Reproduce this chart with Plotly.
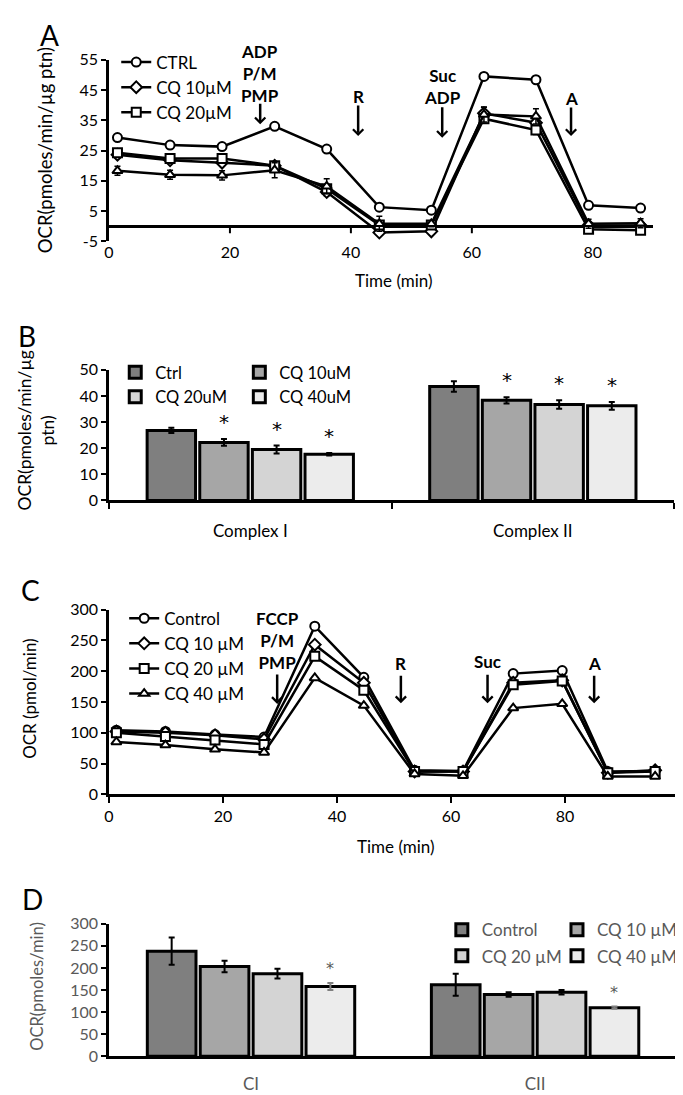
import plotly.graph_objects as go

W, H = 683, 1095
def px(x): return x / W
def py(y): return 1 - y / H

FONT = "Lato"
BLACK = "#000000"
GTXT = "#595959"
FILLS = ["#7f7f7f", "#a6a6a6", "#d4d4d4", "#ececec"]

# ---------------- Panel A data ----------------
a_time = [1.4, 10.1, 18.7, 27.4, 36.0, 44.7, 53.3, 62.0, 70.6, 79.3, 87.9]
a_ctrl = [29.3, 26.8, 26.3, 33.0, 25.5, 6.3, 5.3, 49.5, 48.4, 6.9, 6.0]
a_ctrl_err = [0.8, 0.6, 0.6, 0.8, 0.7, 0.7, 0.7, 1.2, 1.2, 0.6, 0.6]
a_cq10 = [23.6, 21.8, 21.0, 20.0, 11.3, -2.1, -1.7, 37.3, 34.2, 0.3, 0.2]
a_cq10_err = [1.0, 1.0, 1.0, 1.0, 1.2, 0.8, 0.8, 2.0, 2.0, 0.8, 0.8]
a_cq20 = [24.3, 22.4, 22.4, 20.0, 12.4, 0.4, 0.4, 35.5, 31.8, -1.0, -1.3]
a_cq20_err = [1.0, 1.0, 1.0, 1.0, 1.2, 0.8, 0.8, 1.5, 1.5, 0.8, 0.8]
a_cq40 = [18.3, 17.0, 16.8, 18.5, 13.2, 0.8, 0.8, 36.9, 36.3, 0.8, 1.0]
a_cq40_err = [1.5, 1.5, 1.5, 2.5, 2.5, 2.5, 1.0, 2.5, 2.5, 1.5, 1.5]
a_names = ["CTRL", "CQ 10µM", "CQ 20µM", "CQ 40µM"]
a_yticks = [-5, 5, 15, 25, 35, 45, 55]
a_xticks = [0, 20, 40, 60, 80]

# ---------------- Panel B data ----------------
b_cats = ["Complex I", "Complex II"]
b_names = ["Ctrl", "CQ 10uM", "CQ 20uM", "CQ 40uM"]
b_vals = [[26.8, 43.6], [22.2, 38.3], [19.5, 36.7], [17.7, 36.2]]
b_errs = [[1.0, 2.0], [1.3, 1.2], [1.5, 1.6], [0.5, 1.5]]
b_sig = [[False, False], [True, True], [True, True], [True, True]]
b_yticks = [0, 10, 20, 30, 40, 50]

# ---------------- Panel C data ----------------
c_time = [1.3, 9.9, 18.6, 27.2, 36.1, 44.7, 53.6, 62.1, 70.9, 79.5, 87.5, 95.8]
c_ctrl = [104, 102, 97, 93, 273, 190, 39, 38, 196, 201, 37, 38]
c_cq10 = [102, 100, 96, 89, 243, 181, 37, 37, 181, 185, 35, 39]
c_cq20 = [100, 94, 88, 81, 224, 169, 37, 37, 178, 184, 35, 37]
c_cq40 = [85, 80, 73, 68, 189, 144, 33, 30, 140, 147, 29, 29]
c_names = ["Control", "CQ 10 µM", "CQ 20 µM", "CQ 40 µM"]
c_yticks = [0, 50, 100, 150, 200, 250, 300]
c_xticks = [0, 20, 40, 60, 80, 100]

# ---------------- Panel D data ----------------
d_cats = ["CI", "CII"]
d_names = ["Control", "CQ 10 µM", "CQ 20 µM", "CQ 40 µM"]
d_vals = [[238, 162], [203, 140], [187, 145], [158, 110]]
d_errs = [[31, 25], [13, 5], [11, 5], [8, 2.5]]
d_sig = [[False, False], [False, False], [False, False], [True, True]]
d_yticks = [0, 50, 100, 150, 200, 250, 300]

SYMS = ["circle", "diamond", "square", "triangle-up"]
BARGAP = 0.255
BARGROUPGAP = 0.08

fig = go.Figure()

# ---- Panel A traces ----
a_series = [(a_ctrl, a_ctrl_err), (a_cq10, a_cq10_err), (a_cq20, a_cq20_err), (a_cq40, a_cq40_err)]
for i, (vals, errs) in enumerate(a_series):
    fig.add_trace(go.Scatter(
        x=a_time, y=vals, name=a_names[i], mode="lines+markers",
        line=dict(color=BLACK, width=2.5),
        marker=dict(symbol=SYMS[i], size=9, color="white", line=dict(color=BLACK, width=2)),
        error_y=dict(type="data", array=errs, color=BLACK, thickness=1.5, width=3),
        xaxis="x", yaxis="y", legend="legend",
        showlegend=(i < 3),
    ))

# ---- Panel B traces ----
for i in range(4):
    fig.add_trace(go.Bar(
        x=b_cats, y=b_vals[i], name=b_names[i],
        marker=dict(color=FILLS[i], line=dict(color=BLACK, width=3)),
        error_y=dict(type="data", array=b_errs[i], color=BLACK, thickness=2, width=3),
        xaxis="x2", yaxis="y2",
        legend="legend2" if i % 2 == 0 else "legend3",
    ))

# ---- Panel C traces ----
for i, vals in enumerate([c_ctrl, c_cq10, c_cq20, c_cq40]):
    fig.add_trace(go.Scatter(
        x=c_time, y=vals, name=c_names[i], mode="lines+markers",
        line=dict(color=BLACK, width=2.5),
        marker=dict(symbol=SYMS[i], size=9, color="white", line=dict(color=BLACK, width=2)),
        xaxis="x3", yaxis="y3", legend="legend4",
    ))

# ---- Panel D traces ----
for i in range(4):
    fig.add_trace(go.Bar(
        x=d_cats, y=d_vals[i], name=d_names[i],
        marker=dict(color=FILLS[i], line=dict(color=BLACK, width=3)),
        error_y=dict(type="data", array=d_errs[i],
                     color="#7f7f7f" if i == 3 else BLACK, thickness=2, width=3),
        xaxis="x4", yaxis="y4",
        legend="legend5" if i % 2 == 0 else "legend6", legendgroup="d%d" % i,
    ))

axis_common = dict(showgrid=False, zeroline=False, color=BLACK,
                   tickfont=dict(family=FONT, size=16, color=BLACK))

layout = dict(
    width=W, height=H, margin=dict(l=0, r=0, t=0, b=0),
    paper_bgcolor="white", plot_bgcolor="rgba(0,0,0,0)",
    font=dict(family=FONT, size=16, color=BLACK),
    barmode="group", bargap=BARGAP, bargroupgap=BARGROUPGAP,
    # Panel A
    xaxis=dict(axis_common, domain=[px(96.7), px(645)], range=[0, 90], anchor="y",
               tickmode="array", tickvals=a_xticks, ticktext=[str(v) for v in a_xticks],
               showline=False, ticks=""),
    yaxis=dict(axis_common, domain=[py(227.3), py(42.5)], range=[-5, 55], anchor="x",
               tickmode="array", tickvals=a_yticks, ticktext=[str(v) for v in a_yticks],
               showline=True, linewidth=2.5, linecolor=BLACK, ticks="outside", ticklen=5,
               tickwidth=2, tickcolor=BLACK, zeroline=True, zerolinewidth=3, zerolinecolor=BLACK),
    # Panel B
    xaxis2=dict(axis_common, domain=[px(96.7), px(666)], anchor="y2", type="category",
                showline=True, linewidth=2.5, linecolor=BLACK, ticks="outside",
                tickson="boundaries", ticklen=6, tickwidth=2, tickcolor=BLACK,
                tickfont=dict(family=FONT, size=17, color=BLACK),
                ticklabelstandoff=13),
    yaxis2=dict(axis_common, domain=[py(491), py(358)], range=[0, 50], anchor="x2",
                tickmode="array", tickvals=b_yticks, ticktext=[str(v) for v in b_yticks],
                showline=True, linewidth=2.5, linecolor=BLACK, ticks="outside", ticklen=5,
                tickwidth=2, tickcolor=BLACK),
    # Panel C
    xaxis3=dict(axis_common, domain=[px(96.7), px(671)], range=[0, 100], anchor="y3",
                tickmode="array", tickvals=c_xticks, ticktext=[str(v) for v in c_xticks],
                showline=True, linewidth=2.5, linecolor=BLACK, ticks="outside", ticklen=6,
                tickwidth=2, tickcolor=BLACK),
    yaxis3=dict(axis_common, domain=[py(790), py(602)], range=[0, 300], anchor="x3",
                tickmode="array", tickvals=c_yticks, ticktext=[str(v) for v in c_yticks],
                showline=True, linewidth=2.5, linecolor=BLACK, ticks="outside", ticklen=5,
                tickwidth=2, tickcolor=BLACK),
    # Panel D
    xaxis4=dict(axis_common, domain=[px(96.7), px(669)], anchor="y4", type="category",
                showline=True, linewidth=2.5, linecolor=BLACK, ticks="",
                tickfont=dict(family=FONT, size=17, color=GTXT), ticklabelstandoff=10),
    yaxis4=dict(axis_common, domain=[py(1056.7), py(921.7)], range=[0, 300], anchor="x4",
                tickmode="array", tickvals=d_yticks, ticktext=[str(v) for v in d_yticks],
                showline=True, linewidth=2.5, linecolor=BLACK, ticks="outside", ticklen=5,
                tickwidth=2, tickcolor=BLACK,
                tickfont=dict(family=FONT, size=16, color=GTXT)),
)

leg_common = dict(bgcolor="rgba(0,0,0,0)", borderwidth=0, xanchor="left", yanchor="top",
                  orientation="v", itemclick=False, itemdoubleclick=False)
layout["legend"] = dict(leg_common, x=px(104), y=py(27), font=dict(family=FONT, size=17, color=BLACK))
layout["legend2"] = dict(leg_common, x=px(103), y=py(343), font=dict(family=FONT, size=16.5, color=BLACK))
layout["legend3"] = dict(leg_common, x=px(228), y=py(343), font=dict(family=FONT, size=16.5, color=BLACK))
layout["legend4"] = dict(leg_common, x=px(112), y=py(593), font=dict(family=FONT, size=17, color=BLACK))
layout["legend5"] = dict(leg_common, x=px(432), y=py(910), font=dict(family=FONT, size=17, color=GTXT),
                         tracegroupgap=1)
layout["legend6"] = dict(leg_common, x=px(548), y=py(910), font=dict(family=FONT, size=17, color=GTXT),
                         tracegroupgap=1)

fig.update_layout(**layout)

ann = []
def txt(text, x, y, size=16, color=BLACK, angle=0, bold=False, xref="paper", yref="paper",
        family=FONT, **kw):
    d = dict(text=("<b>%s</b>" % text) if bold else text, x=x, y=y, xref=xref, yref=yref,
             showarrow=False, textangle=angle, font=dict(family=family, size=size, color=color),
             xanchor="center", yanchor="middle")
    d.update(kw)
    ann.append(d)

def arrow(x, y, length, xref, yref):
    ann.append(dict(text="", x=x, y=y, xref=xref, yref=yref, showarrow=True, ax=0, ay=-length,
                    arrowhead=4, arrowsize=0.8, arrowwidth=2.5, arrowcolor=BLACK,
                    standoff=0, startstandoff=0))

# panel letters
txt("A", px(37), py(17), size=28)
txt("B", px(14), py(324), size=28)
txt("C", px(17.5), py(582), size=28)
txt("D", px(20), py(897), size=28)

# axis titles
txt("OCR(pmoles/min/µg ptn)", px(33), py(134.8), size=18.5, angle=-90)
txt("Time (min)", px(384), py(267), size=17)
txt("OCR(pmoles/min/µg<br>ptn)", px(23), py(420), size=17.5, angle=-90)
txt("OCR (pmol/min)", px(17), py(692), size=17, angle=-90)
txt("Time (min)", px(386), py(843), size=17)
txt("OCR(pmoles/min)", px(24), py(985), size=16.5, angle=-90, color=GTXT)

# Panel A injection labels
txt("ADP<br>P/M<br>PMP", 25.0, 50.3, size=17, bold=True, xref="x", yref="y")
arrow(25.0, 33.7, 22, "x", "y")
txt("R", 41.2, 42.8, size=17, bold=True, xref="x", yref="y")
arrow(41.2, 29.8, 32, "x", "y")
txt("Suc<br>ADP", 55.1, 46.2, size=17, bold=True, xref="x", yref="y")
arrow(55.1, 29.2, 32, "x", "y")
txt("A", 76.4, 42.2, size=17, bold=True, xref="x", yref="y")
arrow(76.4, 29.8, 30, "x", "y")

# Panel C injection labels
txt("FCCP<br>P/M<br>PMP", 29.5, 250.4, size=17, bold=True, xref="x3", yref="y3")
arrow(29.5, 146.7, 31, "x3", "y3")
txt("R", 51.2, 212, size=17, bold=True, xref="x3", yref="y3")
arrow(51.2, 148, 29, "x3", "y3")
txt("Suc", 66.4, 215, size=17, bold=True, xref="x3", yref="y3")
arrow(66.4, 148, 30, "x3", "y3")
txt("A", 85.1, 212, size=17, bold=True, xref="x3", yref="y3")
arrow(85.1, 148, 29, "x3", "y3")

# significance asterisks
slot = (1 - BARGAP) / 4
for i in range(4):
    for j in range(2):
        if b_sig[i][j]:
            txt("*", j + (i - 1.5) * slot, b_vals[i][j] + b_errs[i][j], size=20,
                xref="x2", yref="y2", yanchor="bottom", yshift=3, family="DejaVu Sans")
        if d_sig[i][j]:
            txt("*", j + (i - 1.5) * slot, d_vals[i][j] + d_errs[i][j], size=16, color=GTXT,
                xref="x4", yref="y4", yanchor="bottom", yshift=3, family="DejaVu Sans")

fig.update_layout(annotations=ann)

# tick marks on the zero line of panel A
shapes = []
for t in a_xticks[1:]:
    shapes.append(dict(type="line", xref="x", yref="y", x0=t, x1=t, ysizemode="pixel",
                       yanchor=0, y0=0, y1=-7, line=dict(color=BLACK, width=2)))
fig.update_layout(shapes=shapes)

fig.write_html("out.html")
